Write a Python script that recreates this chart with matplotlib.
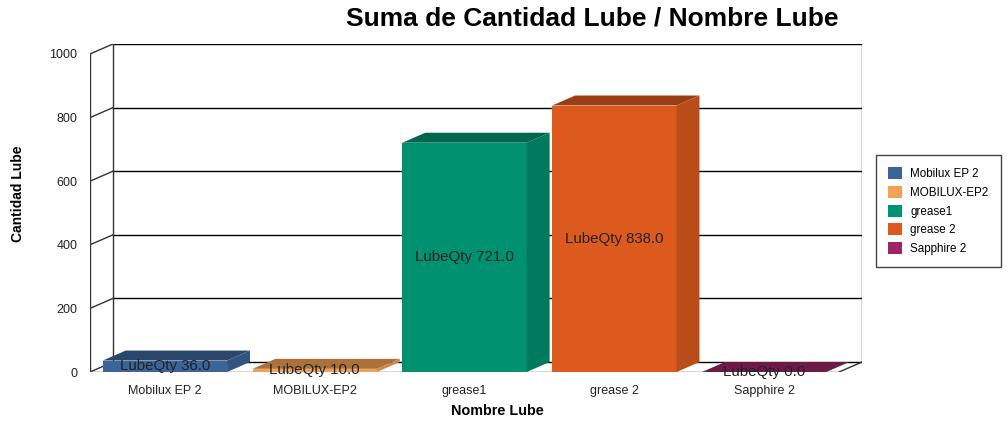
import numpy as np
import matplotlib.pyplot as plt
from matplotlib.patches import Polygon, Patch
from matplotlib.colors import to_rgb

plt.rcParams['font.family'] = ['Liberation Sans', 'DejaVu Sans']

# Lube quantities per lube name
lubes = ["Mobilux EP 2", "MOBILUX-EP2", "grease1", "grease 2", "Sapphire 2"]
qty = [36.0, 10.0, 721.0, 838.0, 0.0]
colors = ["#3b6499", "#f3a255", "#009170", "#dc5a1e", "#9c2566"]
y_ticks = [0, 200, 400, 600, 800, 1000]

# 3D depth offset (x in category units, y in data units)
dx, dy = 0.153, 31.4
bar_w = 0.83
line_c = "#333333"


def shade(c, f):
    return tuple(np.array(to_rgb(c)) * f)


fig = plt.figure(figsize=(10.07, 4.23), dpi=100)
W, H = 1007, 423
ax = fig.add_axes([90 / W, (H - 372) / H, (862 - 90) / W, (372 - 44) / H])
ax.set_xlim(-0.5, 4.5 + dx)
ax.set_ylim(0, 1000 + dy)
for s in ax.spines.values():
    s.set_visible(False)

x = np.arange(len(lubes))

# back wall gridlines and the slanted ticks on the left wall
for t in y_ticks:
    ax.plot([-0.5 + dx, 4.5 + dx], [t + dy, t + dy], color="black", lw=1, zorder=1)
    ax.plot([-0.5, -0.5 + dx], [t, t + dy], color=line_c, lw=1, zorder=1)
ax.plot([-0.5 + dx, -0.5 + dx], [dy, 1000 + dy], color=line_c, lw=1, zorder=1)
ax.plot([4.5 + dx, 4.5 + dx], [dy, 1000 + dy], color=line_c, lw=1, zorder=1)
ax.plot([-0.5, -0.5], [0, 1000], color=line_c, lw=1, zorder=1)
ax.plot([-0.5, 4.5], [0, 0], color=line_c, lw=1, zorder=1)
ax.plot([4.5, 4.5 + dx], [0, dy], color=line_c, lw=1, zorder=1)

# bars: front face, top and right side
for i, (xi, v, c) in enumerate(zip(x, qty, colors)):
    l, r = xi - bar_w / 2, xi + bar_w / 2
    z = 3 + i
    ax.bar(xi, v, width=bar_w, color=c, zorder=z)
    ax.add_patch(Polygon([(l, v), (r, v), (r + dx, v + dy), (l + dx, v + dy)],
                         closed=True, color=shade(c, 0.7), lw=0, zorder=z))
    ax.add_patch(Polygon([(r, 0), (r + dx, dy), (r + dx, v + dy), (r, v)],
                         closed=True, color=shade(c, 0.84), lw=0, zorder=z))
    ax.text(xi, v / 2, "LubeQty %.1f" % v, ha="center", va="center",
            fontsize=10.8, color="#222222", zorder=20)

ax.set_xticks(x)
ax.set_xticklabels(lubes, fontsize=9)
ax.set_yticks(y_ticks)
ax.set_yticklabels([str(t) for t in y_ticks], fontsize=9)
ax.tick_params(axis="both", length=0, colors="#222222")
ax.tick_params(axis="y", pad=9)
ax.tick_params(axis="x", pad=9)
ax.set_xlabel("Nombre Lube", fontsize=10.4, fontweight="bold")
ax.set_ylabel("Cantidad Lube", fontsize=10, fontweight="bold")
ax.xaxis.set_label_coords((497 - 90) / 772, -(411 - 372) / 328)
ax.yaxis.set_label_coords((18 - 90) / 772, (372 - 194) / 328)
ax.xaxis.label.set_va("center")
ax.yaxis.label.set_va("center")

fig.text(592 / W, 1 - 18 / H, "Suma de Cantidad Lube / Nombre Lube",
         ha="center", va="center", fontsize=19, fontweight="bold")

handles = [Patch(facecolor=c, edgecolor="none") for c in colors]
leg = fig.legend(handles, lubes, loc="upper left",
                 bbox_to_anchor=(876 / W, 1 - 155 / H), fontsize=8.4,
                 fancybox=False, framealpha=1, edgecolor="#444444",
                 handlelength=1.2, handleheight=1.2, handletextpad=0.7,
                 labelspacing=0.5, borderpad=1.05, borderaxespad=0)
leg.get_frame().set_linewidth(1)

fig.savefig("out.png", dpi=100)
